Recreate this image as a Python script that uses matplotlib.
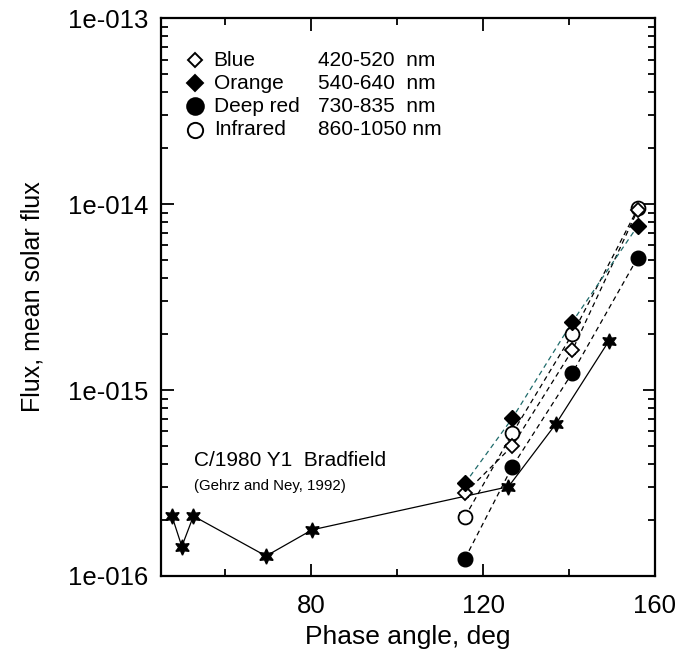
import numpy as np
import matplotlib
matplotlib.use("Agg")
import matplotlib.pyplot as plt
from matplotlib.ticker import FixedLocator, FuncFormatter, NullFormatter

plt.rcParams['font.family'] = ['Liberation Sans', 'DejaVu Sans']

# Bradfield comet (Gehrz and Ney, 1992)
brad_phase = [47.6, 49.9, 52.6, 69.5, 80.2, 125.9, 137.0, 149.3]
brad_flux = [2.1e-16, 1.44e-16, 2.1e-16, 1.28e-16, 1.77e-16, 3.02e-16, 6.6e-16, 1.84e-15]

# four filters, same phase angles
phase = [115.8, 126.8, 140.8, 156.0]
blue_flux = [2.79e-16, 5.0e-16, 1.64e-15, 9.3e-15]
orange_flux = [3.15e-16, 7.05e-16, 2.33e-15, 7.64e-15]
deepred_flux = [1.24e-16, 3.87e-16, 1.24e-15, 5.16e-15]
ir_flux = [2.08e-16, 5.85e-16, 2.0e-15, 9.48e-15]
blue_err = [0.12e-16, 0.2e-16, 0.07e-15, 0.4e-15]
ir_err = [0.09e-16, 0.25e-16, 0.09e-15, 0.4e-15]

legend_names = ['Blue', 'Orange', 'Deep red', 'Infrared']
legend_bands = ['420-520  nm', '540-640  nm', '730-835  nm', '860-1050 nm']

y_major = [1e-16, 1e-15, 1e-14, 1e-13]

fig = plt.figure(figsize=(6.96, 6.53), dpi=100)
ax = fig.add_axes([0.231, 0.118, 0.71, 0.854])

ax.set_yscale('log')
ax.set_xlim(45, 160)
ax.set_ylim(1e-16, 1e-13)

# connecting lines
ax.plot(brad_phase, brad_flux, color='black', lw=0.9, zorder=2)
ax.plot(phase, blue_flux, color='black', lw=0.9, ls=(0, (4, 3)), zorder=2)
ax.plot(phase, deepred_flux, color='black', lw=0.9, ls=(0, (4, 3)), zorder=2)
ax.plot(phase, ir_flux, color='black', lw=0.9, ls=(0, (4, 3)), zorder=2)
ax.plot(phase, orange_flux, color='#1f6b6b', lw=0.9, ls=(0, (4, 3)), zorder=2)

# markers
ax.plot(brad_phase, brad_flux, ls='none', marker=(6, 1, 0), ms=11,
        mfc='black', mec='black', zorder=4)
ax.plot(phase, deepred_flux, ls='none', marker='o', ms=10.5,
        mfc='black', mec='black', zorder=4)
ax.plot(phase, orange_flux, ls='none', marker='D', ms=8.5,
        mfc='black', mec='black', zorder=5)
ax.errorbar(phase, ir_flux, yerr=ir_err, ls='none', marker='o', ms=10,
            mfc='white', mec='black', mew=1.3, ecolor='black', elinewidth=0.9,
            capsize=4, capthick=0.9, zorder=4)
ax.errorbar(phase, blue_flux, yerr=blue_err, ls='none', marker='D', ms=7,
            mfc='white', mec='black', mew=1.3, ecolor='black', elinewidth=0.9,
            capsize=3, capthick=0.9, zorder=4)

# legend drawn by hand
legend_styles = [('D', 'white', 7.5), ('D', 'black', 8.5), ('o', 'black', 12), ('o', 'white', 11)]
for i, (name, band) in enumerate(zip(legend_names, legend_bands)):
    yy = 0.925 - i * 0.0415
    m, fc, s = legend_styles[i]
    ax.plot([0.069], [yy], transform=ax.transAxes, marker=m, ms=s,
            mfc=fc, mec='black', mew=1.4, ls='none', clip_on=False)
    ax.text(0.107, yy, name, transform=ax.transAxes, fontsize=15, va='center')
    ax.text(0.318, yy, band, transform=ax.transAxes, fontsize=15, va='center')

ax.text(0.067, 0.197, 'C/1980 Y1  Bradfield', transform=ax.transAxes, fontsize=15)
ax.text(0.067, 0.155, '(Gehrz and Ney, 1992)', transform=ax.transAxes, fontsize=10.8)

# ticks
y_minor = [m * d for d in y_major[:-1] for m in range(2, 10)]
ax.xaxis.set_major_locator(FixedLocator([80, 120, 160]))
ax.xaxis.set_minor_locator(FixedLocator([60, 100, 140]))
ax.yaxis.set_major_locator(FixedLocator(y_major))
ax.yaxis.set_minor_locator(FixedLocator(y_minor))
ax.yaxis.set_minor_formatter(NullFormatter())
ax.yaxis.set_major_formatter(FuncFormatter(lambda v, p: "1e-%03d" % int(round(-np.log10(v)))))

ax.tick_params(which='both', direction='in', top=True, right=True, width=1.3, labelsize=18.5)
ax.tick_params(which='major', length=9)
ax.tick_params(which='minor', length=5)
ax.tick_params(axis='y', pad=9)
ax.tick_params(axis='x', pad=13)
for sp in ax.spines.values():
    sp.set_linewidth(1.6)

ax.set_xlabel('Phase angle, deg', fontsize=19, labelpad=5)
ax.set_ylabel('Flux, mean solar flux', fontsize=18, labelpad=17)

fig.savefig('out.png', dpi=100)
